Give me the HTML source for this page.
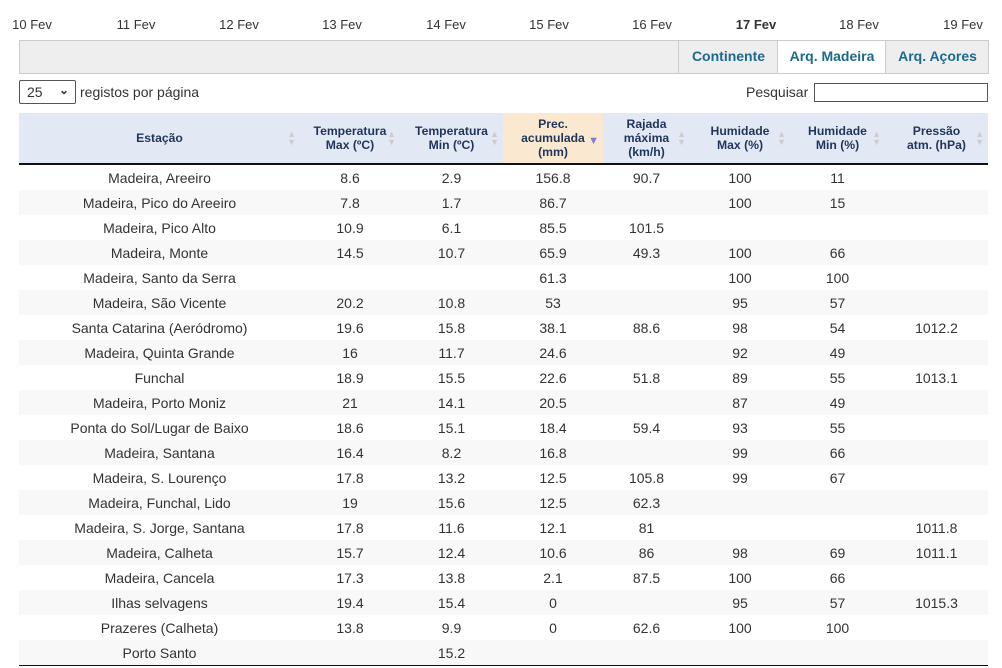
<!DOCTYPE html>
<html><head><meta charset="utf-8"><style>
body{margin:0;width:1002px;height:668px;overflow:hidden;background:#fff;font-family:"Liberation Sans",Arial,sans-serif;color:#333;position:relative}
.d{position:absolute;top:17px;font-size:13px;color:#333;transform:translateX(-50%);white-space:nowrap}
.bar{position:absolute;left:19px;top:40px;width:968px;height:32px;background:#eee;border:1px solid #ccc}
.tab{position:absolute;top:41px;height:32px;line-height:31px;font-size:14px;font-weight:bold;color:#1c6a8c;text-align:center;border-left:1px solid #ccc}
.sel{position:absolute;left:19px;top:80px;width:57px;height:24px;border:1px solid #555;border-radius:2px;font-size:14px;line-height:23px;box-sizing:border-box;padding-left:7px}
table{position:absolute;left:19px;top:113px;width:969px;border-collapse:collapse;font-size:14px}
th{background:#e3e8f5;color:#1f3659;font-size:12.2px;font-weight:bold;height:50px;padding:0;line-height:14px;border-bottom:2px solid #111;position:relative}
th.a{background:#fbe8d0}
th i{position:absolute;right:4px;top:17px;font-style:normal;color:#ccc;font-size:9px;line-height:8px}
td{height:25px;padding:0;text-align:center}
tr:nth-child(even) td{background:#f8f8f8}
tbody tr:last-child td{border-bottom:1px solid #111}
</style></head><body>
<div class="d" style="left:32px">10 Fev</div><div class="d" style="left:136px">11 Fev</div><div class="d" style="left:239px">12 Fev</div><div class="d" style="left:342px">13 Fev</div><div class="d" style="left:446px">14 Fev</div><div class="d" style="left:549px">15 Fev</div><div class="d" style="left:652px">16 Fev</div><div class="d" style="left:756px;font-weight:bold">17 Fev</div><div class="d" style="left:859px">18 Fev</div><div class="d" style="left:963px">19 Fev</div>
<div class="bar"></div>
<div class="tab" style="left:678px;width:99px">Continente</div>
<div class="tab" style="left:777px;width:108px;background:#fff">Arq. Madeira</div>
<div class="tab" style="left:885px;width:103px">Arq. Açores</div>
<div class="sel">25<span style="position:absolute;right:6px;top:-2px;font-size:12px;font-weight:bold">&#x2304;</span></div>
<div style="position:absolute;left:80px;top:84px;font-size:14px">registos por página</div>
<div style="position:absolute;left:746px;top:84px;font-size:14px">Pesquisar</div>
<div style="position:absolute;left:814px;top:83px;width:172px;height:17px;border:1px solid #555"></div>
<table>
<thead><tr>
<th style="width:281px">Estação<i>▲<br>▼</i></th>
<th style="width:100px">Temperatura<br>Max (ºC)<i>▲<br>▼</i></th>
<th style="width:103px">Temperatura<br>Min (ºC)<i>▲<br>▼</i></th>
<th class="a" style="width:100px">Prec.<br>acumulada<br>(mm)<i style="color:#7b7fd8;top:24px;font-size:11px">▼</i></th>
<th style="width:87px">Rajada<br>máxima<br>(km/h)<i>▲<br>▼</i></th>
<th style="width:100px">Humidade<br>Max (%)<i>▲<br>▼</i></th>
<th style="width:95px">Humidade<br>Min (%)<i>▲<br>▼</i></th>
<th>Pressão<br>atm. (hPa)<i>▲<br>▼</i></th>
</tr></thead>
<tbody>
<tr><td>Madeira, Areeiro</td><td>8.6</td><td>2.9</td><td>156.8</td><td>90.7</td><td>100</td><td>11</td><td></td></tr>
<tr><td>Madeira, Pico do Areeiro</td><td>7.8</td><td>1.7</td><td>86.7</td><td></td><td>100</td><td>15</td><td></td></tr>
<tr><td>Madeira, Pico Alto</td><td>10.9</td><td>6.1</td><td>85.5</td><td>101.5</td><td></td><td></td><td></td></tr>
<tr><td>Madeira, Monte</td><td>14.5</td><td>10.7</td><td>65.9</td><td>49.3</td><td>100</td><td>66</td><td></td></tr>
<tr><td>Madeira, Santo da Serra</td><td></td><td></td><td>61.3</td><td></td><td>100</td><td>100</td><td></td></tr>
<tr><td>Madeira, São Vicente</td><td>20.2</td><td>10.8</td><td>53</td><td></td><td>95</td><td>57</td><td></td></tr>
<tr><td>Santa Catarina (Aeródromo)</td><td>19.6</td><td>15.8</td><td>38.1</td><td>88.6</td><td>98</td><td>54</td><td>1012.2</td></tr>
<tr><td>Madeira, Quinta Grande</td><td>16</td><td>11.7</td><td>24.6</td><td></td><td>92</td><td>49</td><td></td></tr>
<tr><td>Funchal</td><td>18.9</td><td>15.5</td><td>22.6</td><td>51.8</td><td>89</td><td>55</td><td>1013.1</td></tr>
<tr><td>Madeira, Porto Moniz</td><td>21</td><td>14.1</td><td>20.5</td><td></td><td>87</td><td>49</td><td></td></tr>
<tr><td>Ponta do Sol/Lugar de Baixo</td><td>18.6</td><td>15.1</td><td>18.4</td><td>59.4</td><td>93</td><td>55</td><td></td></tr>
<tr><td>Madeira, Santana</td><td>16.4</td><td>8.2</td><td>16.8</td><td></td><td>99</td><td>66</td><td></td></tr>
<tr><td>Madeira, S. Lourenço</td><td>17.8</td><td>13.2</td><td>12.5</td><td>105.8</td><td>99</td><td>67</td><td></td></tr>
<tr><td>Madeira, Funchal, Lido</td><td>19</td><td>15.6</td><td>12.5</td><td>62.3</td><td></td><td></td><td></td></tr>
<tr><td>Madeira, S. Jorge, Santana</td><td>17.8</td><td>11.6</td><td>12.1</td><td>81</td><td></td><td></td><td>1011.8</td></tr>
<tr><td>Madeira, Calheta</td><td>15.7</td><td>12.4</td><td>10.6</td><td>86</td><td>98</td><td>69</td><td>1011.1</td></tr>
<tr><td>Madeira, Cancela</td><td>17.3</td><td>13.8</td><td>2.1</td><td>87.5</td><td>100</td><td>66</td><td></td></tr>
<tr><td>Ilhas selvagens</td><td>19.4</td><td>15.4</td><td>0</td><td></td><td>95</td><td>57</td><td>1015.3</td></tr>
<tr><td>Prazeres (Calheta)</td><td>13.8</td><td>9.9</td><td>0</td><td>62.6</td><td>100</td><td>100</td><td></td></tr>
<tr><td>Porto Santo</td><td></td><td>15.2</td><td></td><td></td><td></td><td></td><td></td></tr>
</tbody></table>
</body></html>
